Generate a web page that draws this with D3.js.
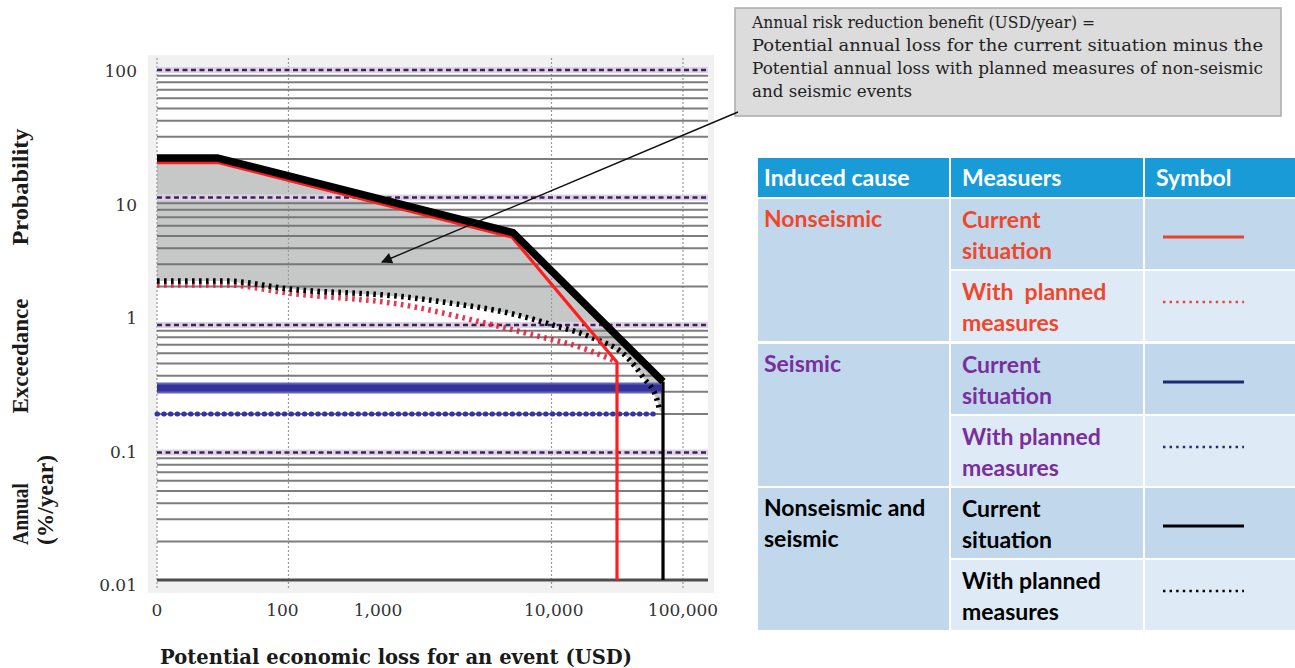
<!DOCTYPE html>
<html>
<head>
<meta charset="utf-8">
<script src="https://cdn.jsdelivr.net/npm/d3@7"></script>
<style>
  html, body { margin: 0; padding: 0; background: #ffffff; }
  svg { display: block; }
</style>
</head>
<body>
<svg id="chart" width="1295" height="668"></svg>
<script>
// ---------------- DATA ----------------
const xTickValues = [10, 100, 1000, 10000, 100000];
const xTickLabels = ["0", "100", "1,000", "10,000", "100,000"];
const xTickLabelAt = [10, 90, 480, 10400, 100000];
const xGridValues = [10, 100, 10000, 100000];

const yTickValues = [100, 10, 1, 0.1, 0.01];
const yTickLabels = ["100", "10", "1", "0.1", "0.01"];
const yTickLabelAt = [98, 8.7, 1.13, 0.1, 0.0092];

// Nonseismic and seismic – current situation (black solid)
const combinedCurrentX = [10, 29, 5100, 70500, 70500];
const combinedCurrentY = [20.4, 20.4, 5.3, 0.36, 0.01];
// Nonseismic – current situation (red solid)
const nonseismicCurrentX = [10, 29, 5000, 31500, 31500];
const nonseismicCurrentY = [18.8, 18.8, 4.9, 0.51, 0.01];
// Nonseismic and seismic – with planned measures (black dotted)
const combinedPlannedX = [10, 34, 100, 770, 1600, 5100, 10250, 20700, 37500, 49700, 63400, 66800];
const combinedPlannedY = [2.21, 2.21, 1.92, 1.66, 1.5, 1.22, 1.0, 0.79, 0.56, 0.39, 0.26, 0.21];
// Nonseismic – with planned measures (red dotted)
const nonseismicPlannedX = [10, 34, 100, 770, 2860, 8180, 16500, 29400];
const nonseismicPlannedY = [2.06, 2.06, 1.78, 1.43, 1.06, 0.81, 0.67, 0.53];
// Seismic – current situation (blue solid)
const seismicCurrentX = [10, 68500];
const seismicCurrentY = [0.32, 0.32];
// Seismic – with planned measures (blue dotted)
const seismicPlannedX = [10, 66000];
const seismicPlannedY = [0.2, 0.2];

const annotationLines = [
  "Annual risk reduction benefit (USD/year) =",
  "Potential annual loss for the current situation minus the",
  "Potential annual loss with planned measures of non-seismic",
  "and seismic events"
];
const annotationLineWidths = [343, 511, 511, 160];

const xTitle = "Potential economic loss for an event (USD)";
const yTitleLines = ["Probability", "Exceedance", "Annual", "(%/year)"];
const yTitleLengths = [117, 115, 62, 90];

const tableHeaders = ["Induced cause", "Measuers", "Symbol"];
const tableCauses = [["Nonseismic"], ["Seismic"], ["Nonseismic and", "seismic"]];
const tableMeasures = [
  [["Current", "situation"], ["With  planned", "measures"]],
  [["Current", "situation"], ["With planned", "measures"]],
  [["Current", "situation"], ["With planned", "measures"]]
];
const tableTextColors = ["#f0472b", "#7a2e9e", "#000000"];
const tableSymbolColors = ["#e8442c", "#1f2a70", "#000000"];

// ---------------- SETUP ----------------
const svg = d3.select("#chart");
const x = d3.scaleLog().domain([10, 155000]).range([157, 708]);
const y = d3.scaleLog().domain([0.01, 100]).range([580, 70]);
const zip = (xs, ys) => xs.map((v, i) => [v, ys[i]]);
const line = d3.line().x(d => x(d[0])).y(d => y(d[1]));
const smooth = d3.line().x(d => x(d[0])).y(d => y(d[1])).curve(d3.curveMonotoneX);

const defs = svg.append("defs");
defs.append("marker").attr("id", "arrowhead")
  .attr("viewBox", "0 0 10 10").attr("refX", 9).attr("refY", 5)
  .attr("markerWidth", 14).attr("markerHeight", 11)
  .attr("markerUnits", "userSpaceOnUse")
  .attr("orient", "auto")
  .append("path").attr("d", "M0,0 L10,5 L0,10 Z").attr("fill", "#111");

// plot backgrounds
svg.append("rect").attr("x", 148).attr("y", 55).attr("width", 566).attr("height", 538).attr("fill", "#f1f1f1");
svg.append("rect").attr("x", x.range()[0]).attr("y", y(100)).attr("width", x.range()[1] - x.range()[0])
  .attr("height", y(0.01) - y(100)).attr("fill", "#ffffff");

// gray benefit area between current and planned combined curves
const cc = zip(combinedCurrentX, combinedCurrentY);
const cp = zip(combinedPlannedX, combinedPlannedY);
const areaPts = cc.slice(0, 4)
  .concat([[combinedCurrentX[3], combinedPlannedY[combinedPlannedY.length - 1]]])
  .concat(cp.slice().reverse());
svg.append("path").attr("d", line(areaPts) + "Z").attr("fill", "#c6c8c8");

// vertical dotted gridlines
svg.append("g").selectAll("line").data(xGridValues).join("line")
  .attr("x1", d => x(d)).attr("x2", d => x(d))
  .attr("y1", y(100) - 12).attr("y2", y(0.01) + 8)
  .attr("stroke", "#9a9a9a").attr("stroke-width", 1.2).attr("stroke-dasharray", "2,2");

// horizontal gridlines
const yAll = y.ticks();
const isDecade = v => Math.abs(Math.log10(v) - Math.round(Math.log10(v))) < 1e-9;
const gMinor = svg.append("g");
gMinor.selectAll("line").data(yAll.filter(v => !isDecade(v))).join("line")
  .attr("x1", x.range()[0]).attr("x2", x.range()[1])
  .attr("y1", d => y(d)).attr("y2", d => y(d))
  .attr("stroke", "#6f6f6f").attr("stroke-width", 2).attr("opacity", 0.9);
const decades = yAll.filter(v => isDecade(v) && v > 0.011);
const gDec = svg.append("g");
gDec.selectAll("line.band").data(decades).join("line").attr("class", "band")
  .attr("x1", x.range()[0]).attr("x2", x.range()[1])
  .attr("y1", d => y(d)).attr("y2", d => y(d))
  .attr("stroke", "#e6cfe0").attr("stroke-width", 6);
gDec.selectAll("line.dash").data(decades).join("line").attr("class", "dash")
  .attr("x1", x.range()[0]).attr("x2", x.range()[1])
  .attr("y1", d => y(d)).attr("y2", d => y(d))
  .attr("stroke", "#2b2a66").attr("stroke-width", 2.6).attr("stroke-dasharray", "5,3.5");
svg.append("line").attr("x1", x.range()[0]).attr("x2", x.range()[1])
  .attr("y1", y(0.01)).attr("y2", y(0.01)).attr("stroke", "#4d4d4d").attr("stroke-width", 3.2);

// ---------------- SERIES ----------------
// seismic planned (blue dotted)
svg.append("path").attr("d", line(zip(seismicPlannedX, seismicPlannedY)))
  .attr("fill", "none").attr("stroke", "#3434a8").attr("stroke-width", 5)
  .attr("stroke-linecap", "round").attr("stroke-dasharray", "0.5,6.2");
// seismic current (blue solid)
svg.append("path").attr("d", line(zip(seismicCurrentX, seismicCurrentY)))
  .attr("fill", "none").attr("stroke", "#6464bb").attr("stroke-width", 11);
svg.append("path").attr("d", line(zip(seismicCurrentX, seismicCurrentY)))
  .attr("fill", "none").attr("stroke", "#33339a").attr("stroke-width", 7);

// nonseismic planned (red dotted)
svg.append("path").attr("d", smooth(zip(nonseismicPlannedX, nonseismicPlannedY)))
  .attr("fill", "none").attr("stroke", "#e4203c").attr("stroke-width", 5.5)
  .attr("stroke-dasharray", "2.6,4.4").attr("opacity", 0.9);
// combined planned (black dotted)
svg.append("path").attr("d", smooth(cp))
  .attr("fill", "none").attr("stroke", "#000").attr("stroke-width", 5.5)
  .attr("stroke-dasharray", "2.6,4.4");
// nonseismic current (red solid)
svg.append("path").attr("d", line(zip(nonseismicCurrentX, nonseismicCurrentY)))
  .attr("fill", "none").attr("stroke", "#ff1d1d").attr("stroke-width", 3.2)
  .attr("stroke-linejoin", "round");
// combined current (black solid)
svg.append("path").attr("d", line(cc.slice(0, 4)))
  .attr("fill", "none").attr("stroke", "#000").attr("stroke-width", 7.5)
  .attr("stroke-linejoin", "round");
svg.append("path").attr("d", line(cc.slice(3)))
  .attr("fill", "none").attr("stroke", "#000").attr("stroke-width", 3.2)
  .attr("stroke-linejoin", "round");

// ---------------- AXES ----------------
const serif = "'DejaVu Serif', serif";
svg.append("g").selectAll("text").data(yTickLabels).join("text")
  .attr("x", 137).attr("y", (d, i) => y(yTickLabelAt[i]))
  .attr("dy", "0.35em").attr("text-anchor", "end")
  .attr("font-family", serif).attr("font-size", 17).attr("fill", "#333")
  .text(d => d);
svg.append("g").selectAll("text").data(xTickLabels).join("text")
  .attr("x", (d, i) => x(xTickLabelAt[i])).attr("y", 616)
  .attr("text-anchor", "middle")
  .attr("font-family", serif).attr("font-size", 17).attr("fill", "#333")
  .text(d => d);
svg.append("text").attr("x", 160).attr("y", 664)
  .attr("font-family", serif).attr("font-size", 19.5).attr("font-weight", "bold").attr("fill", "#1a1a1a")
  .attr("textLength", 472).attr("lengthAdjust", "spacingAndGlyphs")
  .text(xTitle);

// y title (rotated)
const yTitlePos = [[28, 187, "middle"], [28, 356, "middle"], [28, 545, "start"], [53, 545, "start"]];
yTitleLines.forEach((t, i) => {
  const [tx, ty, anchor] = yTitlePos[i];
  svg.append("text")
    .attr("transform", `translate(${tx},${ty}) rotate(-90)`)
    .attr("text-anchor", anchor)
    .attr("font-family", "'Liberation Serif', serif").attr("font-weight", "bold")
    .attr("font-size", 23).attr("fill", "#1a1a1a")
    .attr("textLength", yTitleLengths[i]).attr("lengthAdjust", "spacingAndGlyphs")
    .text(t);
});

// ---------------- ANNOTATION ----------------
svg.append("rect").attr("x", 735).attr("y", 8).attr("width", 546).attr("height", 108)
  .attr("fill", "#dcdcdc").attr("stroke", "#ababab").attr("stroke-width", 1.5);
svg.append("g").selectAll("text").data(annotationLines).join("text")
  .attr("x", 752).attr("y", (d, i) => 28 + i * 23)
  .attr("font-family", serif).attr("font-size", 16.5).attr("fill", "#222")
  .attr("textLength", (d, i) => annotationLineWidths[i]).attr("lengthAdjust", "spacingAndGlyphs")
  .text(d => d);
svg.append("line").attr("x1", 738).attr("y1", 112).attr("x2", 382).attr("y2", 262)
  .attr("stroke", "#111").attr("stroke-width", 1.4).attr("marker-end", "url(#arrowhead)");

// ---------------- TABLE ----------------
const sans = "Lato, 'Open Sans', sans-serif";
const colX = [758, 951, 1145];
const colW = [191, 192, 150];
const headTop = 158, headH = 39;
const rowTops = [199, 344, 488];
const subH = [70, 70];
const fs = 23;
const tbl = svg.append("g");
tbl.selectAll("rect.h").data(tableHeaders).join("rect").attr("class", "h")
  .attr("x", (d, i) => colX[i]).attr("y", headTop).attr("width", (d, i) => colW[i]).attr("height", headH)
  .attr("fill", "#189bd6");
tbl.selectAll("text.h").data(tableHeaders).join("text").attr("class", "h")
  .attr("x", (d, i) => colX[i] + (i === 0 ? 6 : 11)).attr("y", headTop + 28)
  .attr("font-family", sans).attr("font-weight", "bold").attr("font-size", fs).attr("fill", "#fff")
  .text(d => d);

tableCauses.forEach((cause, r) => {
  const top = rowTops[r];
  tbl.append("rect").attr("x", colX[0]).attr("y", top).attr("width", colW[0]).attr("height", subH[0] * 2 + 2)
    .attr("fill", "#c1d8ec");
  cause.forEach((t, k) => {
    tbl.append("text").attr("x", colX[0] + 6).attr("y", top + 28 + k * 31)
      .attr("font-family", sans).attr("font-weight", "bold").attr("font-size", fs)
      .attr("fill", tableTextColors[r]).text(t);
  });
  tableMeasures[r].forEach((m, s) => {
    const st = top + s * (subH[0] + 2);
    const fill = s === 0 ? "#c1d8ec" : "#deeaf5";
    tbl.append("rect").attr("x", colX[1]).attr("y", st).attr("width", colW[1]).attr("height", subH[s]).attr("fill", fill);
    tbl.append("rect").attr("x", colX[2]).attr("y", st).attr("width", colW[2]).attr("height", subH[s]).attr("fill", fill);
    m.forEach((t, k) => {
      tbl.append("text").attr("x", colX[1] + 11).attr("y", st + 29 + k * 31)
        .attr("font-family", sans).attr("font-weight", "bold").attr("font-size", fs)
        .attr("fill", tableTextColors[r]).attr("xml:space", "preserve").style("white-space", "pre").text(t);
    });
    const sy = s === 0 ? st + 38 : st + 31;
    tbl.append("line").attr("x1", colX[2] + 18).attr("x2", colX[2] + 99)
      .attr("y1", sy).attr("y2", sy)
      .attr("stroke", tableSymbolColors[r]).attr("stroke-width", s === 0 ? 3 : 2.6)
      .attr("stroke-dasharray", s === 0 ? null : "2.4,4.2");
  });
});
</script>
</body>
</html>
